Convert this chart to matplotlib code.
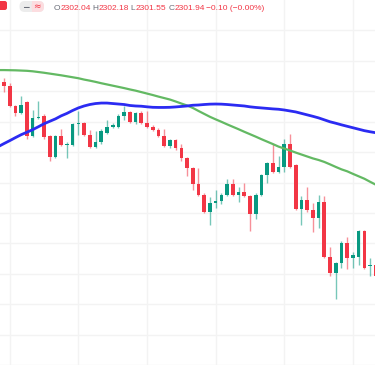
import matplotlib
matplotlib.use("Agg")
import matplotlib.pyplot as plt
import numpy as np
from matplotlib.patches import Rectangle, FancyBboxPatch

# ---- data ----
opens = [2303.68, 2303.58, 2303.54, 2303.38, 2303.32, 2303.41, 2303.13, 2303.28, 2303.30, 2303.13,
         2302.96, 2303.13, 2303.06, 2303.06, 2303.23, 2303.24, 2303.14, 2303.04, 2303.08, 2303.16,
         2303.21, 2303.21, 2303.30, 2303.33, 2303.25, 2303.32, 2303.24, 2303.21, 2303.18, 2303.13,
         2303.05, 2303.10, 2303.03, 2302.95, 2302.87, 2302.74, 2302.65, 2302.51, 2302.58, 2302.60,
         2302.65, 2302.74, 2302.65, 2302.67, 2302.64, 2302.49, 2302.65, 2302.81, 2302.91, 2302.84,
         2302.88, 2303.07, 2302.89, 2302.53, 2302.61, 2302.52, 2302.46, 2302.59, 2302.14, 2302.01,
         2302.09, 2302.25, 2302.13, 2302.14, 2302.35, 2302.06, 2302.07]
highs = [2303.70, 2303.61, 2303.57, 2303.39, 2303.46, 2303.42, 2303.35, 2303.42, 2303.31, 2303.14,
         2303.14, 2303.19, 2303.08, 2303.24, 2303.34, 2303.25, 2303.18, 2303.17, 2303.19, 2303.26,
         2303.24, 2303.31, 2303.38, 2303.34, 2303.33, 2303.34, 2303.34, 2303.22, 2303.20, 2303.19,
         2303.11, 2303.11, 2303.07, 2302.96, 2302.88, 2302.87, 2302.66, 2302.63, 2302.69, 2302.66,
         2302.78, 2302.78, 2302.71, 2302.75, 2302.65, 2302.66, 2302.82, 2302.92, 2303.07, 2302.97,
         2303.11, 2303.15, 2302.90, 2302.64, 2302.71, 2302.58, 2302.65, 2302.64, 2302.22, 2302.10,
         2302.27, 2302.30, 2302.18, 2302.36, 2302.36, 2302.13, 2302.08]
lows = [2303.58, 2303.49, 2303.37, 2303.30, 2303.31, 2303.11, 2303.12, 2303.27, 2303.11, 2302.93,
        2302.95, 2303.05, 2302.95, 2303.05, 2303.14, 2303.13, 2303.03, 2303.03, 2303.07, 2303.15,
        2303.20, 2303.20, 2303.26, 2303.24, 2303.23, 2303.23, 2303.20, 2303.17, 2303.12, 2303.04,
        2303.03, 2303.02, 2302.93, 2302.80, 2302.69, 2302.64, 2302.50, 2302.40, 2302.54, 2302.57,
        2302.64, 2302.64, 2302.59, 2302.63, 2302.35, 2302.45, 2302.64, 2302.75, 2302.83, 2302.83,
        2302.84, 2302.87, 2302.52, 2302.40, 2302.51, 2302.34, 2302.38, 2302.13, 2301.98, 2301.79,
        2302.05, 2302.04, 2302.05, 2302.07, 2302.04, 2301.98, 2301.97]
closes = [2303.60, 2303.54, 2303.38, 2303.32, 2303.39, 2303.13, 2303.28, 2303.29, 2303.12, 2302.96,
          2303.13, 2303.06, 2303.07, 2303.23, 2303.24, 2303.14, 2303.04, 2303.08, 2303.17, 2303.21,
          2303.22, 2303.30, 2303.33, 2303.25, 2303.32, 2303.24, 2303.21, 2303.18, 2303.13, 2303.05,
          2303.10, 2303.03, 2302.95, 2302.87, 2302.74, 2302.65, 2302.51, 2302.58, 2302.60, 2302.65,
          2302.74, 2302.65, 2302.67, 2302.64, 2302.49, 2302.65, 2302.81, 2302.91, 2302.84, 2302.88,
          2303.07, 2302.88, 2302.53, 2302.61, 2302.52, 2302.46, 2302.59, 2302.14, 2302.01, 2302.09,
          2302.25, 2302.13, 2302.15, 2302.35, 2302.05, 2302.07, 2301.98]
ma_fast = [2303.045, 2303.070, 2303.094, 2303.119, 2303.143, 2303.163, 2303.184, 2303.208, 2303.233, 2303.253,
           2303.273, 2303.298, 2303.318, 2303.342, 2303.363, 2303.379, 2303.391, 2303.399, 2303.403, 2303.403,
           2303.399, 2303.395, 2303.391, 2303.383, 2303.379, 2303.377, 2303.372, 2303.368, 2303.367, 2303.367,
           2303.368, 2303.371, 2303.375, 2303.379, 2303.385, 2303.387, 2303.391, 2303.394, 2303.395, 2303.394,
           2303.391, 2303.387, 2303.383, 2303.379, 2303.372, 2303.367, 2303.363, 2303.359, 2303.355, 2303.352,
           2303.346, 2303.338, 2303.330, 2303.318, 2303.306, 2303.294, 2303.281, 2303.265, 2303.249, 2303.237,
           2303.224, 2303.212, 2303.200, 2303.188, 2303.176, 2303.167, 2303.159]
ma_slow = [2303.674, 2303.674, 2303.673, 2303.672, 2303.670, 2303.668, 2303.664, 2303.658, 2303.652, 2303.645,
           2303.638, 2303.631, 2303.623, 2303.615, 2303.607, 2303.596, 2303.587, 2303.577, 2303.566, 2303.556,
           2303.546, 2303.536, 2303.526, 2303.515, 2303.505, 2303.493, 2303.481, 2303.469, 2303.456, 2303.444,
           2303.432, 2303.416, 2303.399, 2303.383, 2303.363, 2303.338, 2303.314, 2303.290, 2303.269, 2303.249,
           2303.228, 2303.208, 2303.188, 2303.167, 2303.147, 2303.127, 2303.106, 2303.086, 2303.066, 2303.045,
           2303.029, 2303.013, 2302.996, 2302.980, 2302.964, 2302.948, 2302.935, 2302.919, 2302.899, 2302.878,
           2302.858, 2302.842, 2302.821, 2302.801, 2302.781, 2302.756, 2302.732]
legend_labels = ["O", "H", "L", "C"]
legend_values = ["2302.04", "2302.18", "2301.55", "2301.94"]
change_text = "\u22120.10 (\u22120.00%)"

UP = "#089981"
DOWN = "#F23645"

W, H = 375, 365
fig = plt.figure(figsize=(W / 100, H / 100), dpi=100)
fig.patch.set_facecolor("white")
ax = fig.add_axes([0, 0, 1, 1])
ax.set_facecolor("white")
ax.set_xlim(0.297, 65.86)
ax.set_ylim(2301.279, 2304.25)
ax.set_xticks(np.arange(2, 67, 12))
ax.set_yticks(np.arange(2301.25, 2304.01, 0.25))
ax.grid(True, color="#f3f3f3", lw=1.0)
ax.tick_params(length=0, labelbottom=False, labelleft=False)
for s in ax.spines.values():
    s.set_visible(False)

idx = np.arange(len(opens))
o = np.array(opens); c = np.array(closes); h = np.array(highs); l = np.array(lows)
cols = [UP if cc >= oo else DOWN for oo, cc in zip(o, c)]
ax.vlines(idx, l, h, colors=cols, lw=1.0, alpha=0.55, zorder=2)
bottom = np.minimum(o, c)
height = np.maximum(np.abs(c - o), 0.009)
ax.bar(idx, height, bottom=bottom, width=0.64, color=cols, zorder=3, linewidth=0)

ax.plot(idx, ma_slow, color="#63b963", lw=1.6, zorder=4, solid_capstyle="round")
ax.plot(idx, ma_fast, color="#2b2bf2", lw=2.0, zorder=5, solid_capstyle="round")

# ---- header / legend row ----
def fx(px):
    return px / W

def fy(py):
    return 1 - py / H

fig.add_artist(FancyBboxPatch((fx(-4), fy(10)), fx(11), 9 / H,
                              boxstyle="round,pad=0,rounding_size=0.006",
                              transform=fig.transFigure, fc=DOWN, ec="none"))
fig.add_artist(FancyBboxPatch((fx(19.5), fy(12)), fx(24.5), 11 / H,
                              boxstyle="round,pad=0,rounding_size=0.014",
                              transform=fig.transFigure, fc="#ececec", ec="none"))
fig.add_artist(FancyBboxPatch((fx(31.5), fy(12)), fx(12.5), 11 / H,
                              boxstyle="round,pad=0,rounding_size=0.014",
                              transform=fig.transFigure, fc="#fcdde0", ec="none"))
fig.add_artist(Rectangle((fx(31.5), fy(12)), fx(5), 11 / H, transform=fig.transFigure,
                         fc="#fcdde0", ec="none"))
fig.text(fx(25.5), fy(9.6), "\u2212", fontsize=6.5, color="#6a6d78", ha="center",
         va="baseline", fontweight="bold", family="DejaVu Sans")
fig.text(fx(37.0), fy(9.6), "\u2248", fontsize=6.5, color=DOWN, ha="center",
         va="baseline", family="DejaVu Sans")

renderer = fig.canvas.get_renderer()
font = dict(fontsize=6.0, family="Liberation Sans", va="baseline")
starts = [53.5, 92.5, 130.5, 168.5]
for x0, lab, val in zip(starts, legend_labels, legend_values):
    t = fig.text(fx(x0), fy(10.3), lab, color="#6a6d78", **font)
    bb = t.get_window_extent(renderer)
    fig.text(bb.x1 / W + 0.001, fy(10.3), val, color=DOWN, **font)
fig.text(fx(206.5), fy(10.3), change_text, color=DOWN, **font)

fig.savefig("out.png", dpi=100, facecolor="white")
